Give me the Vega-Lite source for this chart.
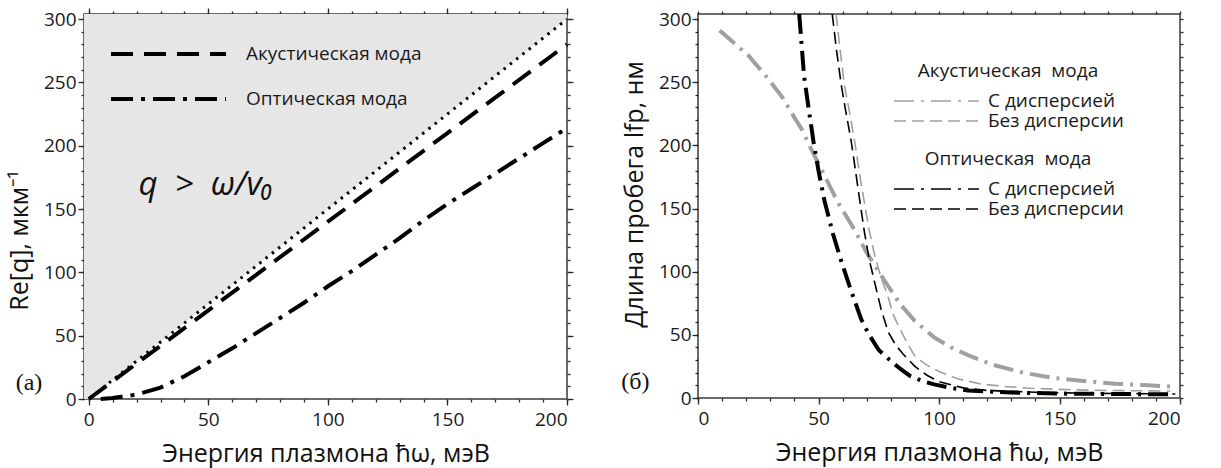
{
  "$schema": "https://vega.github.io/schema/vega-lite/v6.json",
  "padding": {"left": 6, "top": 6, "right": 5, "bottom": 2},
  "spacing": 44,
  "background": "white",
  "config": {
    "font": "Open Sans",
    "view": {"stroke": "#3a3a3a", "strokeWidth": 1.5},
    "axis": {
      "domain": false, "grid": false, "zindex": 3,
      "tickColor": "#2a2a2a", "tickWidth": 1.3,
      "labelFont": "Open Sans", "labelFontSize": 19, "labelColor": "#1a1a1a",
      "titleFont": "Open Sans", "titleFontSize": 25, "titleFontWeight": "normal", "titleColor": "#111"
    },
    "legend": {"labelFont": "Open Sans", "titleFont": "Open Sans", "labelLimit": 400, "titleLimit": 400}
  },
  "datasets": {
    "light": [{"w": -2, "q": -3}, {"w": 200, "q": 300}],
    "modes": [
      {"w": 0, "q": 0, "mode": "Акустическая мода"},
      {"w": 25, "q": 35, "mode": "Акустическая мода"},
      {"w": 50, "q": 70, "mode": "Акустическая мода"},
      {"w": 75, "q": 105, "mode": "Акустическая мода"},
      {"w": 100, "q": 140, "mode": "Акустическая мода"},
      {"w": 125, "q": 175, "mode": "Акустическая мода"},
      {"w": 150, "q": 210, "mode": "Акустическая мода"},
      {"w": 175, "q": 245, "mode": "Акустическая мода"},
      {"w": 200, "q": 280, "mode": "Акустическая мода"},
      {"w": 5, "q": 0, "mode": "Оптическая мода"},
      {"w": 10, "q": 0.8, "mode": "Оптическая мода"},
      {"w": 20, "q": 3.5, "mode": "Оптическая мода"},
      {"w": 30, "q": 9, "mode": "Оптическая мода"},
      {"w": 40, "q": 18, "mode": "Оптическая мода"},
      {"w": 50, "q": 29, "mode": "Оптическая мода"},
      {"w": 60, "q": 40, "mode": "Оптическая мода"},
      {"w": 70, "q": 52, "mode": "Оптическая мода"},
      {"w": 80, "q": 64, "mode": "Оптическая мода"},
      {"w": 90, "q": 76, "mode": "Оптическая мода"},
      {"w": 100, "q": 89, "mode": "Оптическая мода"},
      {"w": 110, "q": 101, "mode": "Оптическая мода"},
      {"w": 120, "q": 114, "mode": "Оптическая мода"},
      {"w": 130, "q": 127, "mode": "Оптическая мода"},
      {"w": 140, "q": 141, "mode": "Оптическая мода"},
      {"w": 150, "q": 154, "mode": "Оптическая мода"},
      {"w": 160, "q": 166, "mode": "Оптическая мода"},
      {"w": 170, "q": 178, "mode": "Оптическая мода"},
      {"w": 180, "q": 190, "mode": "Оптическая мода"},
      {"w": 190, "q": 202, "mode": "Оптическая мода"},
      {"w": 200, "q": 214, "mode": "Оптическая мода"}
    ],
    "acoustic": [
      {"w": 9, "l": 291, "disp": "С дисперсией"},
      {"w": 15, "l": 281, "disp": "С дисперсией"},
      {"w": 21, "l": 271, "disp": "С дисперсией"},
      {"w": 29, "l": 253, "disp": "С дисперсией"},
      {"w": 35, "l": 238, "disp": "С дисперсией"},
      {"w": 40, "l": 222, "disp": "С дисперсией"},
      {"w": 43, "l": 213, "disp": "С дисперсией"},
      {"w": 47, "l": 197, "disp": "С дисперсией"},
      {"w": 52, "l": 178, "disp": "С дисперсией"},
      {"w": 58, "l": 155, "disp": "С дисперсией"},
      {"w": 65, "l": 133, "disp": "С дисперсией"},
      {"w": 70, "l": 115, "disp": "С дисперсией"},
      {"w": 77, "l": 94, "disp": "С дисперсией"},
      {"w": 84, "l": 74, "disp": "С дисперсией"},
      {"w": 90, "l": 61, "disp": "С дисперсией"},
      {"w": 98, "l": 48, "disp": "С дисперсией"},
      {"w": 105, "l": 40, "disp": "С дисперсией"},
      {"w": 112, "l": 34, "disp": "С дисперсией"},
      {"w": 122, "l": 26.5, "disp": "С дисперсией"},
      {"w": 135, "l": 20, "disp": "С дисперсией"},
      {"w": 147, "l": 16, "disp": "С дисперсией"},
      {"w": 160, "l": 13.5, "disp": "С дисперсией"},
      {"w": 173, "l": 11.3, "disp": "С дисперсией"},
      {"w": 185, "l": 10.2, "disp": "С дисперсией"},
      {"w": 198, "l": 9, "disp": "С дисперсией"},
      {"w": 57.3, "l": 304, "disp": "Без дисперсии"},
      {"w": 59, "l": 275, "disp": "Без дисперсии"},
      {"w": 60.8, "l": 247, "disp": "Без дисперсии"},
      {"w": 63, "l": 225, "disp": "Без дисперсии"},
      {"w": 65, "l": 203, "disp": "Без дисперсии"},
      {"w": 67, "l": 178, "disp": "Без дисперсии"},
      {"w": 69, "l": 155, "disp": "Без дисперсии"},
      {"w": 71, "l": 133, "disp": "Без дисперсии"},
      {"w": 73.3, "l": 113, "disp": "Без дисперсии"},
      {"w": 76, "l": 95, "disp": "Без дисперсии"},
      {"w": 78.9, "l": 80, "disp": "Без дисперсии"},
      {"w": 81, "l": 66, "disp": "Без дисперсии"},
      {"w": 83.7, "l": 55, "disp": "Без дисперсии"},
      {"w": 87, "l": 43, "disp": "Без дисперсии"},
      {"w": 90, "l": 33, "disp": "Без дисперсии"},
      {"w": 95, "l": 26, "disp": "Без дисперсии"},
      {"w": 100, "l": 21, "disp": "Без дисперсии"},
      {"w": 108, "l": 15, "disp": "Без дисперсии"},
      {"w": 117.6, "l": 11, "disp": "Без дисперсии"},
      {"w": 128, "l": 9, "disp": "Без дисперсии"},
      {"w": 138, "l": 7.7, "disp": "Без дисперсии"},
      {"w": 150, "l": 6.8, "disp": "Без дисперсии"},
      {"w": 167, "l": 6, "disp": "Без дисперсии"},
      {"w": 196, "l": 5.5, "disp": "Без дисперсии"}
    ],
    "optical": [
      {"w": 42, "l": 304, "disp": "С дисперсией"},
      {"w": 44, "l": 255, "disp": "С дисперсией"},
      {"w": 46, "l": 228, "disp": "С дисперсией"},
      {"w": 48, "l": 202, "disp": "С дисперсией"},
      {"w": 50, "l": 180, "disp": "С дисперсией"},
      {"w": 52.5, "l": 156, "disp": "С дисперсией"},
      {"w": 56, "l": 130, "disp": "С дисперсией"},
      {"w": 59.5, "l": 108, "disp": "С дисперсией"},
      {"w": 63.5, "l": 85, "disp": "С дисперсией"},
      {"w": 67.8, "l": 62, "disp": "С дисперсией"},
      {"w": 71, "l": 50, "disp": "С дисперсией"},
      {"w": 75, "l": 38, "disp": "С дисперсией"},
      {"w": 79, "l": 31, "disp": "С дисперсией"},
      {"w": 84, "l": 23, "disp": "С дисперсией"},
      {"w": 88, "l": 17.5, "disp": "С дисперсией"},
      {"w": 93, "l": 13.5, "disp": "С дисперсией"},
      {"w": 98, "l": 10.8, "disp": "С дисперсией"},
      {"w": 105, "l": 8, "disp": "С дисперсией"},
      {"w": 112, "l": 6, "disp": "С дисперсией"},
      {"w": 122, "l": 5, "disp": "С дисперсией"},
      {"w": 133, "l": 4.2, "disp": "С дисперсией"},
      {"w": 150, "l": 3.5, "disp": "С дисперсией"},
      {"w": 175, "l": 3.1, "disp": "С дисперсией"},
      {"w": 198, "l": 3, "disp": "С дисперсией"},
      {"w": 55.7, "l": 304, "disp": "Без дисперсии"},
      {"w": 57.5, "l": 275, "disp": "Без дисперсии"},
      {"w": 59.5, "l": 247, "disp": "Без дисперсии"},
      {"w": 61.5, "l": 225, "disp": "Без дисперсии"},
      {"w": 63.6, "l": 203, "disp": "Без дисперсии"},
      {"w": 65.5, "l": 178, "disp": "Без дисперсии"},
      {"w": 67, "l": 158, "disp": "Без дисперсии"},
      {"w": 69, "l": 132, "disp": "Без дисперсии"},
      {"w": 71, "l": 110, "disp": "Без дисперсии"},
      {"w": 73.5, "l": 90, "disp": "Без дисперсии"},
      {"w": 76, "l": 70, "disp": "Без дисперсии"},
      {"w": 79, "l": 52, "disp": "Без дисперсии"},
      {"w": 82, "l": 42, "disp": "Без дисперсии"},
      {"w": 85, "l": 35, "disp": "Без дисперсии"},
      {"w": 90, "l": 25, "disp": "Без дисперсии"},
      {"w": 95, "l": 18, "disp": "Без дисперсии"},
      {"w": 100, "l": 13, "disp": "Без дисперсии"},
      {"w": 110, "l": 8, "disp": "Без дисперсии"},
      {"w": 120, "l": 6, "disp": "Без дисперсии"},
      {"w": 140, "l": 4.5, "disp": "Без дисперсии"},
      {"w": 160, "l": 3.8, "disp": "Без дисперсии"},
      {"w": 198, "l": 3.2, "disp": "Без дисперсии"}
    ]
  },
  "hconcat": [
    {
      "width": 483,
      "height": 385,
      "layer": [
        {
          "data": {"name": "light"},
          "mark": {"type": "area", "color": "#e6e6e6", "clip": true},
          "encoding": {
            "x": {
              "field": "w", "type": "quantitative",
              "scale": {"domain": [-2, 200], "nice": false, "zero": false},
              "axis": {
                "orient": "bottom", "tickSize": 3,
                "values": [0,10,20,30,40,50,60,70,80,90,100,110,120,130,140,150,160,170,180,190,200],
                "labelExpr": "datum.value % 50 === 0 ? datum.label : ''",
                "labelPadding": 8,
                "title": "Энергия плазмона ħω, мэВ", "titlePadding": 12
              }
            },
            "y": {
              "field": "q", "type": "quantitative",
              "scale": {"domain": [0, 304], "nice": false},
              "axis": {
                "orient": "left", "tickSize": 3,
                "values": [0,10,20,30,40,50,60,70,80,90,100,110,120,130,140,150,160,170,180,190,200,210,220,230,240,250,260,270,280,290,300],
                "labelExpr": "datum.value % 50 === 0 ? datum.label : ''",
                "labelPadding": 5,
                "title": "Re[q], мкм⁻¹", "titlePadding": 11, "titleY": 226
              }
            },
            "y2": {"datum": 304}
          }
        },
        {
          "data": {"name": "light"},
          "mark": {"type": "line", "color": "black", "strokeWidth": 3, "strokeDash": [2.5, 5.5], "clip": true},
          "encoding": {
            "x": {
              "field": "w", "type": "quantitative",
              "axis": {"orient": "bottom", "labels": false, "title": null, "tickSize": 6, "values": [0, 50, 100, 150, 200]}
            },
            "y": {
              "field": "q", "type": "quantitative",
              "axis": {"orient": "left", "labels": false, "title": null, "tickSize": 6, "values": [0, 50, 100, 150, 200, 250, 300]}
            }
          }
        },
        {
          "data": {"name": "modes"},
          "mark": {"type": "line", "color": "black", "strokeWidth": 4},
          "encoding": {
            "x": {
              "field": "w", "type": "quantitative",
              "axis": {
                "orient": "top", "labels": false, "title": null, "tickSize": 3,
                "values": [0,10,20,30,40,50,60,70,80,90,100,110,120,130,140,150,160,170,180,190,200]
              }
            },
            "y": {
              "field": "q", "type": "quantitative",
              "axis": {
                "orient": "right", "labels": false, "title": null, "tickSize": 3,
                "values": [0,10,20,30,40,50,60,70,80,90,100,110,120,130,140,150,160,170,180,190,200,210,220,230,240,250,260,270,280,290,300]
              }
            },
            "strokeDash": {
              "field": "mode", "type": "nominal",
              "scale": {"domain": ["Акустическая мода", "Оптическая мода"], "range": [[22, 11], [22, 8, 4, 8]]},
              "legend": {
                "orient": "top-left", "offset": 25, "title": null, "padding": 0,
                "symbolType": "stroke", "symbolSize": 13225, "symbolStrokeWidth": 4, "symbolStrokeColor": "black",
                "clipHeight": 30, "rowPadding": 15,
                "labelFontSize": 19, "labelOffset": 18, "labelColor": "#1a1a1a"
              }
            }
          }
        },
        {
          "data": {"values": [{}]},
          "mark": {"type": "text", "font": "Liberation Serif", "fontSize": 24, "color": "#111"},
          "encoding": {
            "x": {"datum": -25, "type": "quantitative", "axis": null},
            "y": {"datum": 13, "type": "quantitative", "axis": null},
            "text": {"value": "(a)"}
          }
        },
        {
          "data": {"values": [{}]},
          "mark": {"type": "text", "font": "Open Sans", "fontStyle": "italic", "fontSize": 33, "color": "#111"},
          "encoding": {
            "x": {
              "datum": 49, "type": "quantitative",
              "axis": {"orient": "top", "labels": false, "title": null, "tickSize": 6, "values": [0, 50, 100, 150, 200]}
            },
            "y": {
              "datum": 169, "type": "quantitative",
              "axis": {"orient": "right", "labels": false, "title": null, "tickSize": 6, "values": [0, 50, 100, 150, 200, 250, 300]}
            },
            "text": {"value": "q \u00a0>\u00a0 ω/v₀"}
          }
        }
      ],
      "resolve": {"axis": {"x": "independent", "y": "independent"}}
    },
    {
      "width": 482,
      "height": 384,
      "layer": [
        {
          "data": {"name": "acoustic"},
          "mark": {"type": "line", "color": "#a0a0a0", "clip": true},
          "encoding": {
            "x": {
              "field": "w", "type": "quantitative",
              "scale": {"domain": [0, 200], "nice": false},
              "axis": {
                "orient": "bottom", "tickSize": 3,
                "values": [0,10,20,30,40,50,60,70,80,90,100,110,120,130,140,150,160,170,180,190,200],
                "labelExpr": "datum.value % 50 === 0 ? datum.label : ''",
                "labelPadding": 8,
                "title": "Энергия плазмона ħω, мэВ", "titlePadding": 12
              }
            },
            "y": {
              "field": "l", "type": "quantitative",
              "scale": {"domain": [0, 304], "nice": false},
              "axis": {
                "orient": "left", "tickSize": 3,
                "values": [0,10,20,30,40,50,60,70,80,90,100,110,120,130,140,150,160,170,180,190,200,210,220,230,240,250,260,270,280,290,300],
                "labelExpr": "datum.value % 50 === 0 ? datum.label : ''",
                "labelPadding": 4,
                "title": "Длина пробега lfp, нм", "titlePadding": 11, "titleY": 180
              }
            },
            "strokeDash": {
              "field": "disp", "type": "nominal",
              "scale": {"domain": ["С дисперсией", "Без дисперсии"], "range": [[20, 7, 3, 7], [12, 6]]},
              "legend": {
                "orient": "none", "legendX": 195, "legendY": 48, "padding": 0,
                "title": "Акустическая\u00a0 мода", "titleFontSize": 19, "titleFontWeight": "normal", "titleAnchor": "middle", "titlePadding": 10, "titleColor": "#1a1a1a",
                "symbolType": "stroke", "symbolSize": 7225, "symbolStrokeWidth": 1.5, "symbolStrokeColor": "#a0a0a0",
                "clipHeight": 20, "rowPadding": 0,
                "labelFontSize": 19, "labelOffset": 8, "labelColor": "#1a1a1a"
              }
            },
            "strokeWidth": {"condition": {"test": "datum.disp === 'С дисперсией'", "value": 4}, "value": 1.6}
          }
        },
        {
          "data": {"name": "optical"},
          "mark": {"type": "line", "color": "black", "clip": true},
          "encoding": {
            "x": {
              "field": "w", "type": "quantitative",
              "axis": {
                "orient": "top", "labels": false, "title": null, "tickSize": 3,
                "values": [0,10,20,30,40,50,60,70,80,90,100,110,120,130,140,150,160,170,180,190,200]
              }
            },
            "y": {
              "field": "l", "type": "quantitative",
              "axis": {
                "orient": "right", "labels": false, "title": null, "tickSize": 3,
                "values": [0,10,20,30,40,50,60,70,80,90,100,110,120,130,140,150,160,170,180,190,200,210,220,230,240,250,260,270,280,290,300]
              }
            },
            "strokeDash": {
              "field": "disp", "type": "nominal",
              "scale": {"domain": ["С дисперсией", "Без дисперсии"], "range": [[20, 7, 3, 7], [12, 6]]},
              "legend": {
                "orient": "none", "legendX": 195, "legendY": 136, "padding": 0,
                "title": "Оптическая\u00a0 мода", "titleFontSize": 19, "titleFontWeight": "normal", "titleAnchor": "middle", "titlePadding": 10, "titleColor": "#1a1a1a",
                "symbolType": "stroke", "symbolSize": 7225, "symbolStrokeWidth": 1.5, "symbolStrokeColor": "black",
                "clipHeight": 20, "rowPadding": 0,
                "labelFontSize": 19, "labelOffset": 8, "labelColor": "#1a1a1a"
              }
            },
            "strokeWidth": {"condition": {"test": "datum.disp === 'С дисперсией'", "value": 4}, "value": 1.6}
          }
        },
        {
          "data": {"values": [{}]},
          "mark": {"type": "text", "font": "Liberation Serif", "fontSize": 24, "color": "#111"},
          "encoding": {
            "x": {
              "datum": -26, "type": "quantitative",
              "axis": {"orient": "bottom", "labels": false, "title": null, "tickSize": 6, "values": [0, 50, 100, 150, 200]}
            },
            "y": {
              "datum": 13, "type": "quantitative",
              "axis": {"orient": "left", "labels": false, "title": null, "tickSize": 6, "values": [0, 50, 100, 150, 200, 250, 300]}
            },
            "text": {"value": "(б)"}
          }
        }
      ],
      "resolve": {
        "axis": {"x": "independent", "y": "independent"},
        "scale": {"strokeDash": "independent"},
        "legend": {"strokeDash": "independent"}
      }
    }
  ]
}
